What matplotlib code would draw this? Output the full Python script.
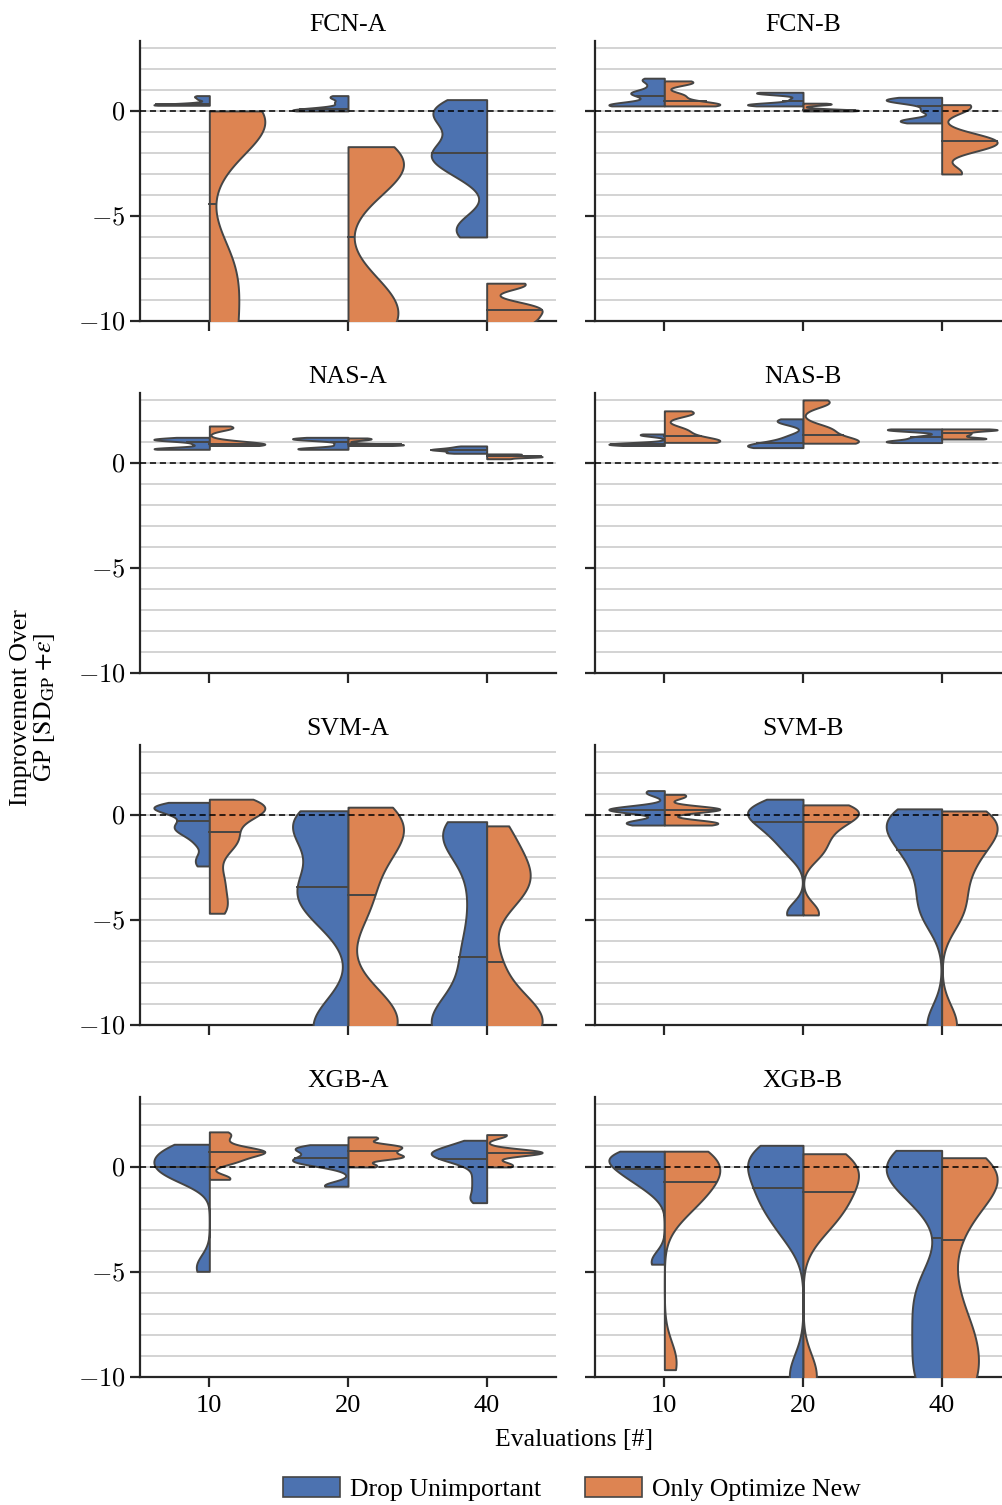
import numpy as np
import matplotlib
matplotlib.use("Agg")
import matplotlib.pyplot as plt
from matplotlib.patches import Patch

plt.rcParams["font.family"] = "serif"
plt.rcParams["font.serif"] = ["Liberation Serif", "DejaVu Serif"]
plt.rcParams["mathtext.fontset"] = "cm"

EVALS = ["10", "20", "40"]
BENCHMARKS = ["FCN-A", "FCN-B", "NAS-A", "NAS-B", "SVM-A", "SVM-B", "XGB-A", "XGB-B"]
METHODS = ["Drop Unimportant", "Only Optimize New"]

# improvement samples per evaluation budget (10, 20, 40)
FCN_A_DROP = [[0.27, 0.28, 0.28, 0.29, 0.30, 0.32, 0.40, 0.55, 0.65, 0.73],
              [0.0, 0.0, 0.02, 0.05, 0.1, 0.2, 0.4, 0.6, 0.73],
              [0.54, 0.3, 0.0, -0.2, -0.5, -1.0, -1.6, -2.0, -2.1, -2.3, -2.7, -3.2, -5.2, -5.7, -6.0]]
FCN_A_NEW = [[0.0, 0.0, -0.05, -0.1, -0.2, -0.4, -0.7, -1.1, -1.6, -2.4,
              -6.5, -7.2, -7.9, -8.6, -9.3, -10.0, -10.8, -11.6, -12.4, -13.2],
             [-1.7, -2.0, -2.3, -2.7, -3.2, -4.0, -8.0, -8.8, -9.4, -9.8, -10.3, -11.0],
             [-8.2, -8.3, -9.2, -9.4, -9.6, -9.9, -10.1, -10.5]]
FCN_B_DROP = [[0.24, 0.26, 0.28, 0.3, 0.33, 0.6, 0.8, 0.85, 0.95, 1.2, 1.45, 1.56],
              [0.24, 0.27, 0.3, 0.32, 0.35, 0.56, 0.82, 0.85, 0.87, 0.89],
              [0.65, 0.6, 0.55, 0.5, 0.45, 0.35, 0.1, -0.05, -0.4, -0.45, -0.5, -0.57]]
FCN_B_NEW = [[0.24, 0.26, 0.28, 0.3, 0.35, 0.45, 0.68, 0.8, 1.3, 1.38, 1.43],
             [0.0, 0.01, 0.02, 0.03, 0.05, 0.1, 0.3, 0.33, 0.37],
             [0.3, 0.25, 0.1, -1.1, -1.3, -1.4, -1.5, -1.6, -1.7, -1.9, -2.9, -3.0]]
NAS_A_DROP = [[0.65, 0.67, 0.68, 0.7, 0.9, 1.05, 1.1, 1.12, 1.15, 1.22],
              [0.65, 0.67, 0.68, 0.7, 0.9, 1.1, 1.12, 1.15, 1.18, 1.22],
              [0.46, 0.5, 0.55, 0.6, 0.63, 0.66, 0.7, 0.75, 0.81]]
NAS_A_NEW = [[0.83, 0.85, 0.87, 0.89, 0.9, 0.95, 1.05, 1.6, 1.7, 1.76],
             [0.83, 0.85, 0.86, 0.87, 0.88, 0.9, 1.1, 1.15, 1.19],
             [0.2, 0.25, 0.28, 0.3, 0.32, 0.35, 0.4, 0.43]]
NAS_B_DROP = [[0.83, 0.86, 0.88, 0.89, 0.9, 0.92, 0.95, 1.3, 1.35, 1.38],
              [0.73, 0.75, 0.78, 0.8, 0.85, 0.95, 1.1, 1.3, 1.9, 2.0, 2.1],
              [0.97, 1.0, 1.02, 1.05, 1.2, 1.25, 1.55, 1.58, 1.6, 1.62]]
NAS_B_NEW = [[0.98, 1.0, 1.02, 1.05, 1.1, 1.3, 1.5, 1.65, 2.3, 2.4, 2.48],
             [0.94, 0.96, 0.98, 1.0, 1.05, 1.15, 1.5, 1.6, 1.7, 2.8, 2.9, 3.0],
             [1.14, 1.16, 1.18, 1.3, 1.38, 1.45, 1.55, 1.57, 1.6, 1.62]]
SVM_A_DROP = [[0.6, 0.5, 0.4, 0.35, 0.3, 0.2, 0.0, -0.3, -0.5, -0.6, -0.8, -1.0, -1.4, -2.0, -2.43],
              [0.2, 0.1, -0.2, -0.5, -0.9, -1.5, -2.8, -3.3, -3.6, -4.0, -4.5, -5.2, -9.3, -9.8, -10.3, -11.0],
              [-0.32, -0.5, -0.8, -1.2, -2.0, -3.5, -5.0, -6.5, -7.0, -8.5, -9.2, -9.6, -9.9, -10.2, -10.6, -11.2]]
SVM_A_NEW = [[0.75, 0.6, 0.45, 0.3, 0.25, 0.2, 0.0, -0.8, -1.0, -1.3, -1.8, -2.8, -3.5, -4.2, -4.68],
             [0.37, 0.1, -0.3, -0.6, -1.0, -1.6, -2.4, -3.8, -4.6, -8.7, -9.2, -9.6, -10.0, -10.5, -11.0],
             [-0.52, -1.5, -2.5, -3.0, -3.4, -4.0, -7.0, -8.8, -9.3, -9.7, -10.0, -10.4, -10.8]]
SVM_B_DROP = [[1.16, 1.0, 0.4, 0.3, 0.28, 0.25, 0.2, 0.15, -0.3, -0.35, -0.4, -0.48],
              [0.75, 0.6, 0.4, 0.2, 0.1, 0.0, -0.2, -0.5, -0.7, -1.0, -1.4, -1.9, -4.6, -4.76],
              [0.29, 0.2, 0.0, -0.2, -0.4, -0.7, -1.0, -1.5, -1.8, -2.3, -3.0, -3.8, -4.5, -5.0, -9.8, -10.2]]
SVM_B_NEW = [[0.98, 0.85, 0.35, 0.3, 0.27, 0.25, 0.2, -0.3, -0.35, -0.4, -0.45, -0.48],
             [0.48, 0.4, 0.3, 0.2, 0.1, 0.0, -0.2, -0.5, -0.8, -1.2, -1.6, -2.0, -4.6, -4.76],
             [0.19, 0.1, -0.1, -0.3, -0.5, -0.8, -1.1, -1.5, -1.9, -2.4, -3.0, -3.8, -4.5, -5.0, -9.8, -10.2]]
XGB_A_DROP = [[1.08, 0.9, 0.75, 0.65, 0.55, 0.4, 0.1, -0.1, -0.2, -0.3, -0.4, -0.6, -4.6, -4.97],
              [1.06, 0.95, 0.88, 0.85, 0.7, 0.5, 0.43, 0.3, 0.25, 0.2, 0.0, -0.85, -0.92],
              [1.27, 1.1, 0.9, 0.75, 0.7, 0.65, 0.6, 0.4, 0.32, 0.2, -0.2, -0.6, -1.0, -1.4, -1.7]]
XGB_A_NEW = [[1.67, 1.5, 1.2, 0.9, 0.8, 0.75, 0.7, 0.65, 0.5, 0.3, 0.2, -0.5, -0.59],
             [1.43, 1.35, 1.05, 1.0, 0.95, 0.8, 0.75, 0.6, 0.5, 0.45, 0.4, 0.1, 0.0],
             [1.54, 1.5, 0.8, 0.72, 0.7, 0.68, 0.65, 0.6, 0.2, 0.05, 0.0]]
XGB_B_DROP = [[0.75, 0.65, 0.6, 0.55, 0.5, 0.4, 0.2, -0.1, -0.2, -0.3, -0.5, -0.8, -1.2, -4.4, -4.63],
              [1.03, 0.9, 0.7, 0.5, 0.3, 0.1, -0.3, -0.9, -1.1, -1.4, -1.8, -2.2, -2.8, -3.4, -9.6, -10.3],
              [0.79, 0.6, 0.4, 0.2, 0.0, -0.3, -0.7, -1.2, -1.8, -5.0, -5.8, -6.5, -7.2, -8.0, -8.8, -9.5, -10.2, -11.0]]
XGB_B_NEW = [[0.75, 0.6, 0.5, 0.35, 0.25, 0.1, -0.2, -0.7, -0.8, -1.1, -1.4, -1.8, -2.2, -9.0, -9.65],
             [0.63, 0.5, 0.3, 0.1, -0.1, -0.3, -0.7, -1.2, -1.4, -1.8, -2.1, -2.6, -3.1, -9.6, -10.3],
             [0.44, 0.2, -0.1, -0.4, -0.7, -1.1, -1.6, -2.4, -3.5, -5.5, -7.0, -7.8, -8.5, -9.2, -9.8, -10.5, -11.2]]

DATA = {
    "FCN-A": (FCN_A_DROP, FCN_A_NEW), "FCN-B": (FCN_B_DROP, FCN_B_NEW),
    "NAS-A": (NAS_A_DROP, NAS_A_NEW), "NAS-B": (NAS_B_DROP, NAS_B_NEW),
    "SVM-A": (SVM_A_DROP, SVM_A_NEW), "SVM-B": (SVM_B_DROP, SVM_B_NEW),
    "XGB-A": (XGB_A_DROP, XGB_A_NEW), "XGB-B": (XGB_B_DROP, XGB_B_NEW),
}

COLORS = ["#4C72B0", "#DD8452"]
EDGE = "#454545"
BW_ADJUST = 0.5
HALF_WIDTH = 0.4


def half_violin(ax, pos, vals, side, color):
    v = np.asarray(vals, dtype=float)
    bw = v.std(ddof=1) * len(v) ** (-0.2) * BW_ADJUST
    ys = np.linspace(v.min(), v.max(), 300)
    dens = np.exp(-0.5 * ((ys[:, None] - v[None, :]) / bw) ** 2).sum(axis=1)
    w = dens / dens.max() * HALF_WIDTH
    ax.fill_betweenx(ys, pos, pos + side * w, facecolor=color, edgecolor=EDGE,
                     linewidth=1.4, zorder=3)
    m = np.median(v)
    ax.plot([pos, pos + side * np.interp(m, ys, w)], [m, m], color=EDGE, lw=1.4, zorder=4)


fig = plt.figure(figsize=(10.03, 15.05), dpi=100)
col_x = [140 / 1003, 595 / 1003]
row_bottom = [321, 673, 1025, 1377]
W, H = 416 / 1003, 280 / 1505

for k, name in enumerate(BENCHMARKS):
    r, c = divmod(k, 2)
    ax = fig.add_axes([col_x[c], 1 - row_bottom[r] / 1505, W, H])
    drop, new = DATA[name]
    for i in range(len(EVALS)):
        half_violin(ax, i, drop[i], -1, COLORS[0])
        half_violin(ax, i, new[i], 1, COLORS[1])
    ax.axhline(0, color="black", lw=1.1, ls=(0, (4, 2.5)), zorder=5)
    ax.set_xlim(-0.5, 2.5)
    ax.set_ylim(-10, 3.33)
    ax.set_yticks([-10, -5, 0])
    ax.set_yticks(np.arange(-10, 4), minor=True)
    ax.grid(True, axis="y", which="both", color="#cccccc", lw=1.2, zorder=0)
    ax.set_axisbelow(True)
    if c == 0:
        ax.set_yticklabels(["$-10$", "$-5$", "$0$"], fontsize=19)
    else:
        ax.set_yticklabels([])
    ax.set_xticks(range(len(EVALS)))
    if r == 3:
        ax.set_xticklabels(EVALS, fontsize=19)
    else:
        ax.set_xticklabels([])
    ax.tick_params(which="major", length=7, width=1.6, color="#262626")
    ax.tick_params(axis="x", pad=6)
    ax.tick_params(which="minor", length=0)
    for s in ["top", "right"]:
        ax.spines[s].set_visible(False)
    for s in ["left", "bottom"]:
        ax.spines[s].set_linewidth(1.6)
        ax.spines[s].set_color("#262626")
    ax.set_title(name, fontsize=18.5, pad=7)

fig.text(0.033, 0.53, "Improvement Over\nGP [$\\mathrm{SD}_{\\mathrm{GP}}\\ {+}\\varepsilon$]",
         rotation=90, ha="center", va="center", fontsize=18.5, linespacing=1.0,
         math_fontfamily="stix")
fig.text(574 / 1003, 1 - 1440 / 1505, "Evaluations [#]", ha="center", va="center", fontsize=18.5)

handles = [Patch(facecolor=COLORS[i], edgecolor=EDGE, lw=1.2, label=METHODS[i]) for i in range(2)]
fig.legend(handles=handles, loc="center", bbox_to_anchor=(572 / 1003, 1 - 1489 / 1505),
           ncol=2, frameon=False, fontsize=18.5, handlelength=2.2, handleheight=0.85,
           handletextpad=0.4, columnspacing=1.7)

fig.savefig("out.png", dpi=100)
